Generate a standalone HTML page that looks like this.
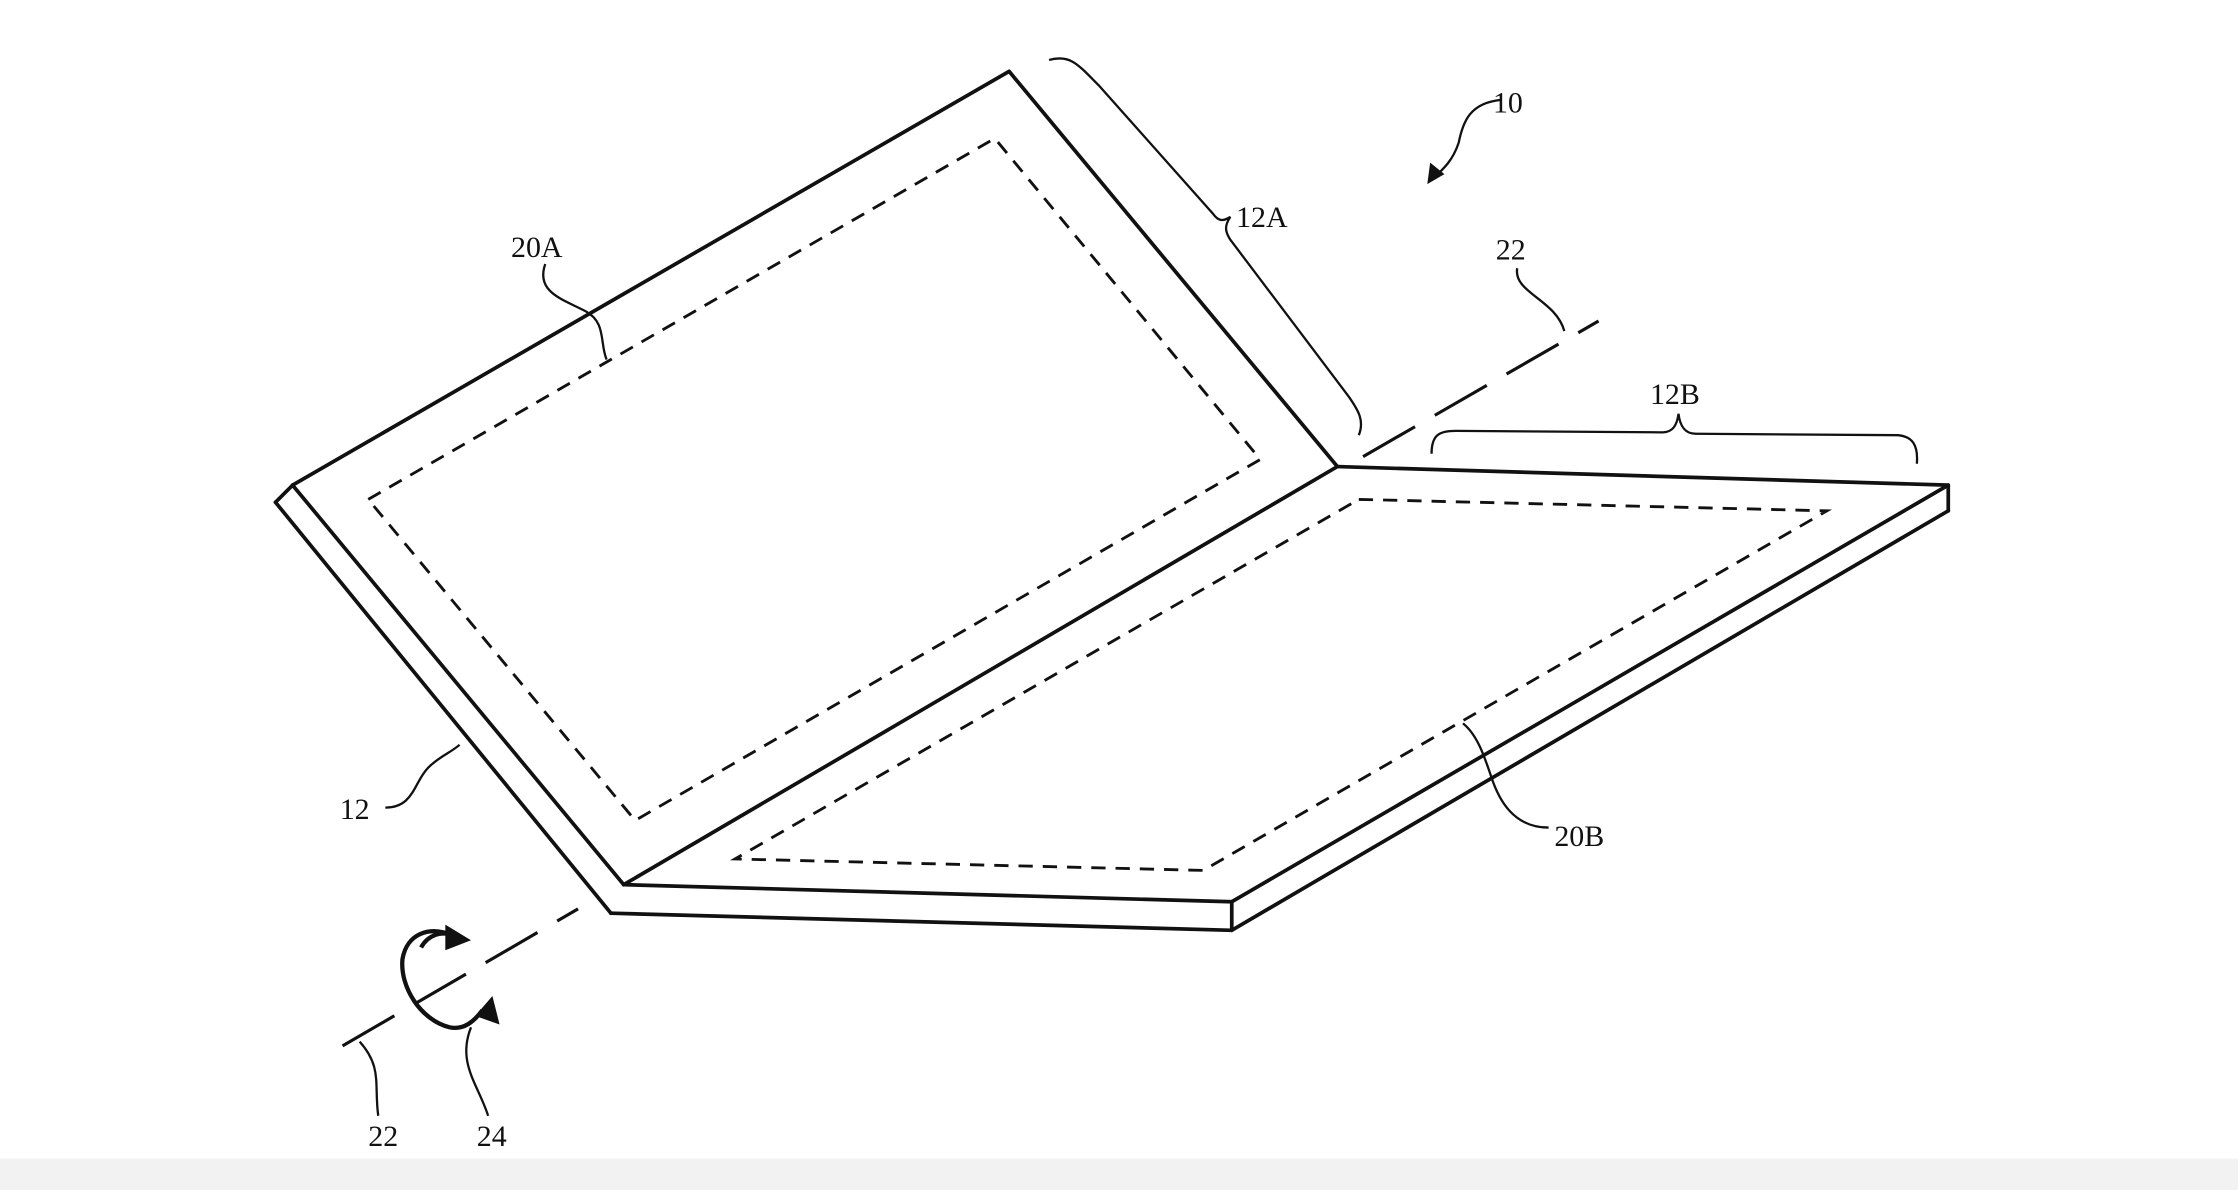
<!DOCTYPE html>
<html><head><meta charset="utf-8"><style>
html,body{margin:0;padding:0;background:#fff;width:2238px;height:1190px;overflow:hidden}
svg{display:block}
text{font-family:"Liberation Serif",serif;font-size:21px;fill:#111}
</style></head><body>
<svg width="2238" height="1190" viewBox="0 0 1568 834" preserveAspectRatio="none">
<rect width="1568" height="834" fill="#fff"/>
<g fill="none" stroke="#111" stroke-width="2.6" stroke-linejoin="round" stroke-linecap="round">
<!-- top panel -->
<path d="M205,340 L707,50 L937,327"/>
<path d="M193,352 L205,340"/>
<path d="M193,352 L428,640"/>
<path d="M205,340 L437,620"/>
<path d="M437,620 L937,327"/>
<!-- bottom panel -->
<path d="M937,327 L1365,340 L1365,358"/>
<path d="M863,632 L1365,340"/>
<path d="M863,652 L1365,358"/>
<path d="M437,620 L863,632 L863,652 L428,640"/>
</g>
<g fill="none" stroke="#111" stroke-width="2" stroke-dasharray="10,7">
<path d="M258,350 L697,97 L883,322 L445,575 Z"/>
<path d="M952,350 L1280,358 L843,610 L515,602 Z"/>
</g>
<g fill="none" stroke="#111" stroke-width="2.2" stroke-dasharray="42,16">
<path d="M240,733 L405,637"/>
<path d="M955,320 L1120,225"/>
</g>
<g fill="none" stroke="#111" stroke-width="1.6">
<!-- 22 top leader -->
<path d="M1063,188 C1060,205 1090,210 1096,232"/>
<!-- 22 bottom leader -->
<path d="M265,782 C262,760 268,748 252,730"/>
<!-- 24 leader -->
<path d="M342,782 C335,760 320,745 330,720"/>
<!-- 12A brace -->
<path d="M735,42 C750,38 755,45 770,60 L850,150 C853,154 856,156 862,152 C858,158 858,162 862,168 L945,278 C952,288 956,295 952,305"/>
<!-- 12B brace -->
<path d="M1003,318 C1003,305 1008,302 1020,302 L1165,303 C1172,303 1175,298 1176,290 C1177,298 1180,304 1188,304 L1330,305 C1340,306 1344,312 1343,325"/>
<!-- 10 -->
<path d="M1052,70 C1030,72 1025,85 1022,100 C1018,112 1012,118 1003,126"/>
<!-- 20A -->
<path d="M382,185 C375,205 395,210 410,218 C425,226 420,240 425,252"/>
<!-- 12 -->
<path d="M270,566 C290,566 290,548 300,538 C308,530 315,528 322,522"/>
<!-- 20B -->
<path d="M1085,580 C1060,580 1050,560 1045,545 C1040,530 1035,515 1025,507"/>
</g>
<path d="M1000,129 L1002,114 L1012,122 Z" fill="#111"/>
<!-- rotation arrow 24 -->
<g fill="none" stroke="#111" stroke-width="3">
<path d="M318,656 C300,648 285,655 282,672 C280,692 295,715 315,720 C325,722 332,716 338,708"/>
<path d="M295,664 C300,655 310,652 318,656"/>
</g>
<path d="M330,659 L312,648 L312,666 Z" fill="#111"/>
<path d="M345,698 L333,712 L350,718 Z" fill="#111"/>
</g>
<text x="1046" y="79">10</text>
<text x="866" y="159">12A</text>
<text x="1048" y="182">22</text>
<text x="358" y="180">20A</text>
<text x="1156" y="283">12B</text>
<text x="238" y="574">12</text>
<text x="1089" y="593">20B</text>
<text x="258" y="803">22</text>
<text x="334" y="803">24</text>
<rect x="0" y="812" width="1568" height="22" fill="#f2f2f2"/>
</svg>
</body></html>
